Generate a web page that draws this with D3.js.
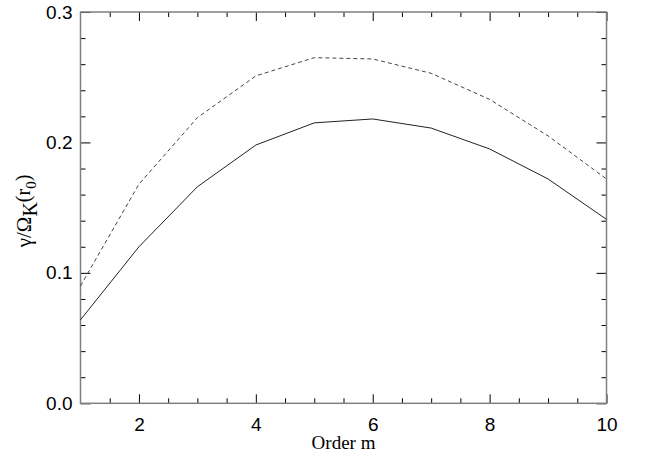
<!DOCTYPE html>
<head>
  <meta charset="UTF-8">
  <title>growth rate vs order m</title>
  <style>
  body{ margin: 0; background: #fff; }
  .tick text{ font-family: "Liberation Sans", Arial, sans-serif; font-size: 19px; fill: #000; }
  .ttl{ font-family: "Liberation Serif", "Times New Roman", serif; fill: #000; }
  </style>
</head>
<body>
  <script src="https://cdn.jsdelivr.net/npm/d3@7"></script>
  <script type="text/javascript">
  // data
  var orders = [1, 2, 3, 4, 5, 6, 7, 8, 9, 10];
  var solid  = [0.064, 0.120, 0.166, 0.198, 0.215, 0.218, 0.211, 0.195, 0.172, 0.141];
  var dashed = [0.090, 0.168, 0.219, 0.251, 0.265, 0.264, 0.253, 0.233, 0.205, 0.172];
  var xMajor = [2, 4, 6, 8, 10];
  var yMajor = [0.0, 0.1, 0.2, 0.3];

  var W = 649, H = 455;
  var L = 80.5, R = 606.5, T = 12, B = 403.3;

  var svg = d3.select('body').append('svg')
    .attr('width', W)
    .attr('height', H);

  var x = d3.scaleLinear().domain([1, 10]).range([L, R]);
  var y = d3.scaleLinear().domain([0, 0.3]).range([B, T]);

  var xMinor = d3.range(1.5, 10, 0.5).filter(function(v){ return xMajor.indexOf(v) < 0; });
  var yMinor = d3.range(0.02, 0.3, 0.02).filter(function(v){ return Math.abs(Math.round(v*10) - v*10) > 1e-6; });

  function addAxis(axis, tx, ty, labels){
    var g = svg.append('g').attr('transform', 'translate(' + tx + ',' + ty + ')').call(axis);
    g.select('.domain').remove();
    g.selectAll('.tick line').attr('stroke', '#000').attr('stroke-width', 1);
    if(!labels) g.selectAll('.tick text').remove();
    return g;
  }

  // bottom
  addAxis(d3.axisBottom(x).tickValues(xMajor).tickSize(-9).tickPadding(14).tickFormat(d3.format('d')), 0, B, true);
  addAxis(d3.axisBottom(x).tickValues(xMinor).tickSize(-5), 0, B, false);
  // top
  addAxis(d3.axisTop(x).tickValues(xMajor).tickSize(-9), 0, T, false);
  addAxis(d3.axisTop(x).tickValues(xMinor).tickSize(-5), 0, T, false);
  // left
  addAxis(d3.axisLeft(y).tickValues(yMajor).tickSize(-10).tickPadding(8).tickFormat(d3.format('.1f')), L, 0, true);
  addAxis(d3.axisLeft(y).tickValues(yMinor).tickSize(-5), L, 0, false);
  // right
  addAxis(d3.axisRight(y).tickValues(yMajor).tickSize(-10), R, 0, false);
  addAxis(d3.axisRight(y).tickValues(yMinor).tickSize(-5), R, 0, false);

  // frame
  svg.append('rect')
    .attr('x', L).attr('y', T)
    .attr('width', R - L).attr('height', B - T)
    .attr('fill', 'none')
    .attr('stroke', '#808080')
    .attr('stroke-width', 1.5);

  var line = d3.line()
    .x(function(d){ return x(d[0]); })
    .y(function(d){ return y(d[1]); });

  svg.append('path')
    .datum(d3.zip(orders, solid))
    .attr('d', line)
    .attr('fill', 'none')
    .attr('stroke', '#222')
    .attr('stroke-width', 1);

  svg.append('path')
    .datum(d3.zip(orders, dashed))
    .attr('d', line)
    .attr('fill', 'none')
    .attr('stroke', '#444')
    .attr('stroke-width', 1)
    .attr('stroke-dasharray', '4,3');

  // axis titles
  svg.append('text')
    .attr('class', 'ttl')
    .attr('x', (L + R) / 2)
    .attr('y', 449)
    .attr('text-anchor', 'middle')
    .attr('font-size', 19)
    .text('Order m');

  var yt = svg.append('text')
    .attr('class', 'ttl')
    .attr('transform', 'translate(31,211) rotate(-90)')
    .attr('text-anchor', 'middle')
    .attr('font-size', 21);
  yt.append('tspan').text('γ/Ω');
  yt.append('tspan').attr('dy', 6).attr('font-size', 20).text('K');
  yt.append('tspan').attr('dy', -7).attr('font-size', 20).text('(r');
  yt.append('tspan').attr('dy', 6).attr('font-size', 15).text('0');
  yt.append('tspan').attr('dy', -6).attr('font-size', 20).text(')');
  </script>
</body>
</html>
